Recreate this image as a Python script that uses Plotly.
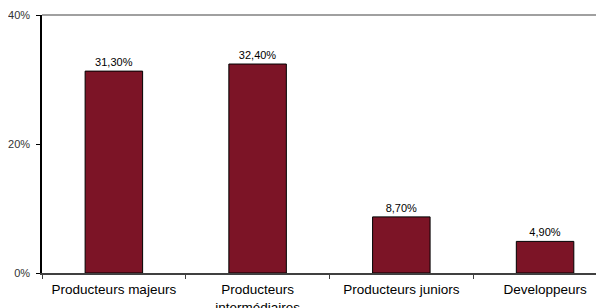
import plotly.graph_objects as go

categories = ["Producteurs majeurs", "Producteurs<br>intermédiaires", "Producteurs juniors", "Developpeurs"]
values = [31.3, 32.4, 8.7, 4.9]
y_ticks = [0, 20, 40]
y_tick_text = ["0%", "20%", "40%"]

bar_color = "#7C1426"

fig = go.Figure()
fig.add_trace(go.Bar(
    x=categories,
    y=values,
    width=0.4,
    marker=dict(color=bar_color, line=dict(color="#000000", width=1)),
    texttemplate="%{y:.2f}%",
    textposition="outside",
    textfont=dict(family="Liberation Sans, Arial", size=11, color="#000000"),
    cliponaxis=False,
))

# page body has an 8px margin; paper is offset accordingly
fig.update_layout(
    width=596, height=300,
    margin=dict(l=34, r=0, t=7, b=35, autoexpand=False),
    paper_bgcolor="white", plot_bgcolor="white",
    separators=", ",
    showlegend=False,
    font=dict(family="Liberation Sans, Arial", color="#000000"),
    xaxis=dict(
        type="category",
        range=[-0.5, 3.41],
        tickson="boundaries",
        ticks="outside", ticklen=4, tickcolor="#404040",
        showline=True, linecolor="#404040", linewidth=1.5,
        showgrid=False,
        tickfont=dict(size=13.5, color="#000000"),
        ticklabelstandoff=3,
        automargin=False,
    ),
    yaxis=dict(
        range=[0, 40],
        tickmode="array",
        tickvals=y_ticks,
        ticktext=y_tick_text,
        ticks="outside", ticklen=4, tickcolor="#000000",
        showline=True, linecolor="#000000", linewidth=1.5,
        showgrid=False, zeroline=False,
        tickfont=dict(size=11, color="#333333"),
        ticklabelstandoff=4,
        automargin=False,
    ),
    shapes=[dict(type="line", xref="paper", yref="paper", x0=0, x1=1, y0=1, y1=1,
                 line=dict(color="#808080", width=1.5))],
)

fig.write_html("out.html")
